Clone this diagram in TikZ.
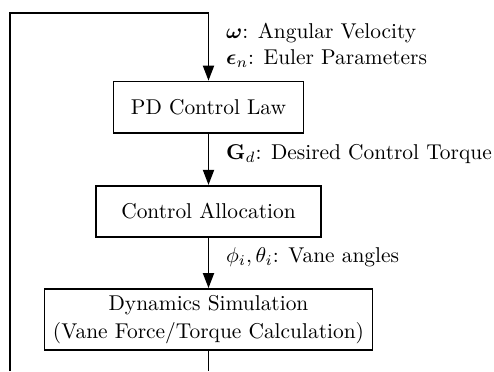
\documentclass[tikz,border=0pt]{standalone}
\usepackage{amsmath}
\usepackage{graphicx}
\usetikzlibrary{arrows.meta}
\newcommand\bigtxt[1]{\scalebox{2.15}{#1}}
\begin{document}
\begin{tikzpicture}[x=1bp,y=-1bp,
  font=\fontsize{10}{12.5}\selectfont,
  blockbox/.style={draw,line width=1.8bp,inner sep=0pt,align=center},
  conn/.style={line width=1.8bp,-{Triangle[length=15bp,width=11bp]}},
  plain/.style={line width=1.8bp},
  lbl/.style={anchor=base west,inner sep=0pt}]
\useasboundingbox (0,0) rectangle (494,371);
\node[blockbox,minimum width=190bp,minimum height=51.5bp] (pd) at (208.5,107.3) {\bigtxt{PD Control Law}};
\node[blockbox,minimum width=225bp,minimum height=51bp] (ca) at (208.5,211.3) {\bigtxt{Control Allocation}};
\node[blockbox,minimum width=328bp,minimum height=61bp] (dyn) at (208.5,319.5) {\bigtxt{\begin{tabular}{@{}c@{}}Dynamics Simulation\\[0.5pt](Vane Force/Torque Calculation)\end{tabular}}};
\coordinate (bl) at (10,371);
\coordinate (tl) at (10,13);
\coordinate (tr) at (208.5,13);
\coordinate (br) at (208.5,371);
\draw[conn] (bl) -- (tl) -- (tr) -- (pd.north);
\draw[conn] (pd.south) -- (ca.north);
\draw[conn] (ca.south) -- (dyn.north);
\draw[plain] (dyn.south) -- (br);
\node[lbl] (l1) at (226,38) {\bigtxt{$\boldsymbol{\omega}$: Angular Velocity}};
\node[lbl] (l2) at (226,64) {\bigtxt{$\boldsymbol{\epsilon}_n$: Euler Parameters}};
\node[lbl] (l3) at (226,159) {\bigtxt{$\mathbf{G}_d$: Desired Control Torque}};
\node[lbl] (l4) at (226,262) {\bigtxt{$\phi_i,\theta_i$: Vane angles}};
\end{tikzpicture}
\end{document}
